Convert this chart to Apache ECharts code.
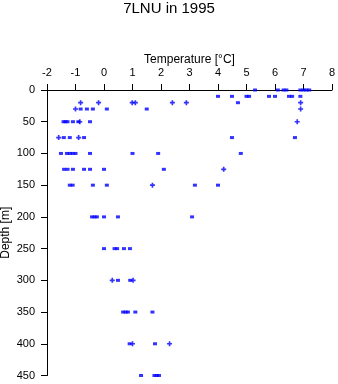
<!DOCTYPE html>
<html>
<head>
<meta charset="utf-8">
<script src="https://cdn.jsdelivr.net/npm/echarts@6/dist/echarts.min.js"></script>
<style>
html,body{margin:0;padding:0;background:#fff;}
#c{width:338px;height:384px;}
</style>
</head>
<body>
<div id="c"></div>
<script>
// Tick settings
const tempTicks = { min: -2, max: 8, step: 1 };
const depthTicks = { min: 0, max: 450, step: 50 };

// Points drawn with "+" markers
const plusTemp  = [-0.82, -0.19, 0.99, 1.1, 2.4, 2.89, 6.9, -1.0, 6.9, -0.85, 6.78, -1.59, -0.89, 4.2, 1.7, 0.29, 1.02, 1.0, 2.3];
const plusDepth = [20, 20, 20, 20, 20, 20, 20, 30, 30, 50, 50, 75, 75, 125, 150, 300, 300, 400, 400];

// Points drawn with square markers
const sqTemp = [
  5.3, 6.1, 6.3, 6.4, 6.89, 7.0, 7.1, 7.2,
  4.0, 4.49, 5.0, 5.09, 5.79, 6.0, 6.49, 6.6, 6.89,
  4.7,
  -0.82, -0.6, -0.39, 0.1, 1.5,
  -1.42, -1.35, -1.28, -1.09, -0.9, -0.49,
  -1.41, -1.2, -0.7, 4.49, 6.7,
  -1.51, -1.3, -1.2, -1.1, -1.0, -0.49, 1.0, 1.9, 4.8,
  -1.4, -1.28, -1.09, -0.7, -0.49, 0.0, 2.1,
  -1.2, -1.1, -0.39, 0.1, 3.19, 4.0,
  -0.42, -0.33, -0.25, 0.0, 0.49, 3.09,
  0.0, 0.37, 0.46, 0.7, 0.91,
  0.49, 0.92,
  0.67, 0.76, 0.84, 1.1, 1.7,
  0.9, 1.79,
  1.3, 1.77, 1.85, 1.93
];
const sqDepth = [
  0, 0, 0, 0, 0, 0, 0, 0,
  10, 10, 10, 10, 10, 10, 10, 10, 10,
  20,
  30, 30, 30, 30, 30,
  50, 50, 50, 50, 50, 50,
  75, 75, 75, 75, 75,
  100, 100, 100, 100, 100, 100, 100, 100, 100,
  125, 125, 125, 125, 125, 125, 125,
  150, 150, 150, 150, 150, 150,
  200, 200, 200, 200, 200, 200,
  250, 250, 250, 250, 250,
  300, 300,
  350, 350, 350, 350, 350,
  400, 400,
  450, 450, 450, 450
];

const FONT = 'Liberation Sans';
const plusData = plusTemp.map((t, i) => [t, plusDepth[i]]);
const sqData = sqTemp.map((t, i) => [t, sqDepth[i]]);

const chart = echarts.init(document.getElementById('c'), null, { renderer: 'canvas' });
chart.setOption({
  animation: false,
  backgroundColor: '#fff',
  title: {
    text: '7LNU in 1995',
    left: 'center',
    top: 1,
    padding: 0,
    textStyle: { fontFamily: FONT, fontSize: 15, fontWeight: 'normal', color: '#000' }
  },
  grid: { left: 47, top: 90, right: 6, bottom: 8.5, containLabel: false, outerBoundsMode: 'none' },
  xAxis: {
    type: 'value',
    position: 'top',
    min: tempTicks.min, max: tempTicks.max, interval: tempTicks.step,
    name: 'Temperature [°C]',
    nameLocation: 'middle',
    nameGap: 24,
    nameMoveOverlap: false,
    nameTextStyle: { fontFamily: FONT, fontSize: 12, color: '#000' },
    axisLine: { show: true, onZero: false, lineStyle: { color: '#000', width: 1 } },
    axisTick: { show: true, length: 6, lineStyle: { color: '#000' } },
    axisLabel: { margin: 12, fontFamily: FONT, fontSize: 11, color: '#000', hideOverlap: false },
    splitLine: { show: false }
  },
  yAxis: {
    type: 'value',
    inverse: true,
    min: depthTicks.min, max: depthTicks.max, interval: depthTicks.step,
    name: 'Depth [m]',
    nameLocation: 'middle',
    nameGap: 35,
    nameMoveOverlap: false,
    nameTextStyle: { fontFamily: FONT, fontSize: 12, color: '#000' },
    axisLine: { show: true, onZero: false, lineStyle: { color: '#000', width: 1 } },
    axisTick: { show: true, length: 6, lineStyle: { color: '#000' } },
    axisLabel: { margin: 12, fontFamily: FONT, fontSize: 11, color: '#000', hideOverlap: false },
    splitLine: { show: false }
  },
  series: [
    {
      type: 'scatter',
      data: sqData,
      symbol: 'rect',
      symbolSize: [4, 3],
      itemStyle: { color: '#0000ff' },
      clip: false
    },
    {
      type: 'scatter',
      data: plusData,
      symbol: 'path://M2,0h2v2h2v2h-2v2h-2v-2h-2v-2h2z',
      symbolSize: [5, 5],
      itemStyle: { color: '#0000ff' },
      clip: false
    }
  ]
});
</script>
</body>
</html>
